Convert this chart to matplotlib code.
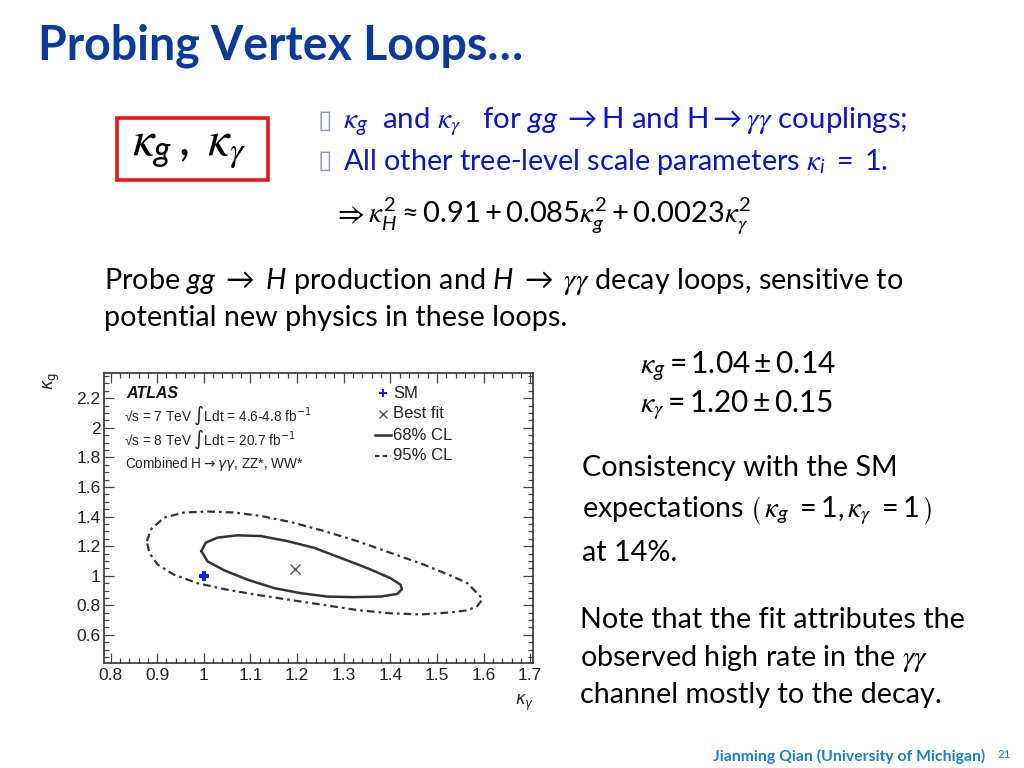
import matplotlib
matplotlib.use("Agg")
import matplotlib.pyplot as plt
from matplotlib.lines import Line2D
from matplotlib.patches import Rectangle
from matplotlib.ticker import MultipleLocator

# ---------------- data ----------------
cl68_x = [0.995, 1.004, 1.029, 1.072, 1.122, 1.179, 1.236, 1.293, 1.350, 1.400,
          1.422, 1.425, 1.415, 1.379, 1.322, 1.265, 1.208, 1.151, 1.094, 1.044,
          1.008, 0.995]
cl68_y = [1.166, 1.223, 1.257, 1.273, 1.268, 1.234, 1.189, 1.121, 1.052, 0.984,
          0.939, 0.909, 0.877, 0.859, 0.855, 0.859, 0.882, 0.916, 0.973, 1.036,
          1.097, 1.166]

cl95_x = [0.878, 0.887, 0.915, 0.958, 1.008, 1.065, 1.122, 1.186, 1.258, 1.329,
          1.400, 1.472, 1.530, 1.565, 1.593, 1.597, 1.586, 1.565, 1.529, 1.465,
          1.400, 1.329, 1.258, 1.186, 1.115, 1.044, 0.986, 0.936, 0.901, 0.883,
          0.878]
cl95_y = [1.234, 1.314, 1.393, 1.427, 1.434, 1.427, 1.404, 1.363, 1.302, 1.234,
          1.155, 1.075, 1.000, 0.950, 0.860, 0.838, 0.793, 0.766, 0.752, 0.738,
          0.746, 0.768, 0.802, 0.836, 0.870, 0.909, 0.950, 1.007, 1.075, 1.155,
          1.234]

sm_point = (1.0, 1.0)
best_fit = (1.195, 1.045)

x_ticks = [0.8, 0.9, 1.0, 1.1, 1.2, 1.3, 1.4, 1.5, 1.6, 1.7]
x_tick_labels = ["0.8", "0.9", "1", "1.1", "1.2", "1.3", "1.4", "1.5", "1.6", "1.7"]
y_ticks = [0.6, 0.8, 1.0, 1.2, 1.4, 1.6, 1.8, 2.0, 2.2]
y_tick_labels = ["0.6", "0.8", "1", "1.2", "1.4", "1.6", "1.8", "2", "2.2"]

# ---------------- figure ----------------
W, H = 1024, 768
plt.rcParams["mathtext.fontset"] = "custom"
plt.rcParams["mathtext.rm"] = "Lato"
plt.rcParams["mathtext.it"] = "STIXGeneral:italic"
plt.rcParams["mathtext.sf"] = "Lato:italic"
plt.rcParams["mathtext.bf"] = "Lato:bold"
plt.rcParams["mathtext.fallback"] = "stix"

fig = plt.figure(figsize=(W / 100, H / 100), dpi=100)
fig.patch.set_facecolor("white")

SLIDE = ["Lato", "DejaVu Sans"]
PLOT = ["Liberation Sans", "DejaVu Sans"]
BODY = 20.7


def T(x, y, s, **kw):
    kw.setdefault("family", SLIDE)
    kw.setdefault("va", "center")
    kw.setdefault("ha", "left")
    return fig.text(x / W, 1 - y / H, s, **kw)


# title
T(38, 46, "Probing Vertex Loops…", fontsize=33.5, weight="bold", color="#0a3a9c")

# red box
fig.patches.append(Rectangle((117 / W, 1 - 180 / H), 151 / W, 62 / H,
                             transform=fig.transFigure, fill=False,
                             edgecolor="#e8161b", linewidth=2.6))
T(132, 149, r"$\kappa_{\mathsf{g}}\,,\ \kappa_\gamma$", fontsize=35, color="black")

# bullets
blue = "#0a14c8"
T(318, 121, "▯", fontsize=19, color="#8f96d6", family=["DejaVu Sans"])
T(343, 122, r"$\kappa_{\mathsf{g}}$  and $\kappa_\gamma$   for $\mathsf{gg}\ \rightarrow$H and H$\rightarrow\gamma\gamma$ couplings;",
  fontsize=21.2, color=blue)
T(318, 161, "▯", fontsize=19, color="#8f96d6", family=["DejaVu Sans"])
T(343, 162, r"All other tree-level scale parameters $\kappa_{\mathsf{i}}\ =\ $1.",
  fontsize=BODY, color=blue)

# equation
T(333, 216, r"$\Rightarrow\kappa_{\mathsf{H}}^2 \approx 0.91+0.085\kappa_{\mathsf{g}}^2+0.0023\kappa_\gamma^2$",
  fontsize=21, color="black")

# paragraph
T(104, 281, r"Probe $\mathsf{gg}\ \rightarrow\ \mathsf{H}$ production and $\mathsf{H}\ \rightarrow\ \gamma\gamma$ decay loops, sensitive to",
  fontsize=BODY, color="black")
T(104, 318, "potential new physics in these loops.", fontsize=BODY, color="black")

# right-hand results
T(640, 367, r"$\kappa_{\mathsf{g}} = 1.04 \pm 0.14$", fontsize=21.5, color="black")
T(640, 405, r"$\kappa_\gamma = 1.20 \pm 0.15$", fontsize=21.5, color="black")

T(582, 468, "Consistency with the SM", fontsize=BODY, color="black")
T(582, 511, r"expectations $\left(\,\kappa_{\mathsf{g}}\ =1,\kappa_\gamma\ =1\,\right)$", fontsize=BODY, color="black")
T(582, 553, "at 14%.", fontsize=BODY, color="black")

T(580, 620, "Note that the fit attributes the", fontsize=BODY, color="black")
T(580, 658, r"observed high rate in the $\gamma\gamma$", fontsize=BODY, color="black")
T(580, 695, "channel mostly to the decay.", fontsize=BODY, color="black")

# footer
T(985, 756, "Jianming Qian (University of Michigan)", fontsize=11.3, weight="bold",
  color="#1a7fd4", ha="right")
T(998, 755, "21", fontsize=8.5, color="#1a7fd4")

# ---------------- plot ----------------
ax = fig.add_axes([104 / W, 1 - 663 / H, 429 / W, 290 / H])
ax.set_xlim(0.786, 1.706)
ax.set_ylim(0.41, 2.37)

line_col = "#333333"
ax.plot(cl95_x, cl95_y, color=line_col, lw=1.6, linestyle=(0, (3.5, 1.8, 1.2, 1.8)))
ax.plot(cl68_x, cl68_y, color=line_col, lw=1.8)
ax.plot(*sm_point, marker="P", color="#1a1aff", markersize=6.5, markeredgewidth=0)
ax.plot(*best_fit, marker="x", color="#555555", markersize=6.5, markeredgewidth=1.0)

ax.set_xticks(x_ticks)
ax.set_xticklabels(x_tick_labels)
ax.set_yticks(y_ticks)
ax.set_yticklabels(y_tick_labels)
ax.xaxis.set_minor_locator(MultipleLocator(0.02))
ax.yaxis.set_minor_locator(MultipleLocator(0.05))
ax.tick_params(which="both", direction="in", top=True, right=True,
               color="#444444", width=0.9)
ax.tick_params(which="major", length=7, labelsize=12.5, labelcolor="#222222",
               labelfontfamily="Liberation Sans")
ax.tick_params(axis="y", which="major", pad=2.5)
ax.tick_params(axis="x", which="major", pad=3.5)
ax.tick_params(which="minor", length=3.5)
for sp in ax.spines.values():
    sp.set_linewidth(1.2)
    sp.set_color("#333333")

# axis titles
T(52, 381, r"$\kappa_{\mathrm{g}}$", fontsize=12, rotation=90, ha="center",
  color="#222222", math_fontfamily="dejavusans")
T(525, 703, r"$\kappa_{\gamma}$", fontsize=12, ha="center", color="#222222",
  math_fontfamily="dejavusans")

# ATLAS text
T(126, 393, "ATLAS", fontsize=11.5, weight="bold", style="italic",
  family=PLOT, color="#111111")
T(124, 416, "\u221As = 7 TeV " + r"$\int$Ldt = 4.6-4.8 fb$^{-1}$", fontsize=9.8,
  family=PLOT, color="#222222", math_fontfamily="dejavusans")
T(124, 440, "\u221As = 8 TeV " + r"$\int$Ldt = 20.7 fb$^{-1}$", fontsize=9.8,
  family=PLOT, color="#222222", math_fontfamily="dejavusans")
T(125, 464, r"Combined H$\rightarrow\gamma\gamma$, ZZ*, WW*", fontsize=9.8,
  family=PLOT, color="#222222", math_fontfamily="dejavusans")

# legend (manual, ROOT style)
legend_items = [
    ("SM", dict(marker="P", color="#1a1aff", markersize=6, markeredgewidth=0, linestyle="none")),
    ("Best fit", dict(marker="x", color="#555555", markersize=6, markeredgewidth=1.0, linestyle="none")),
    ("68% CL", dict(color=line_col, lw=1.8)),
    ("95% CL", dict(color=line_col, lw=1.6, linestyle=(0, (2, 1.5)))),
]
ly = [393, 414, 435, 456]
for (lab, style), yy in zip(legend_items, ly):
    fy = 1 - yy / H
    if "marker" in style:
        fig.lines.append(Line2D([383 / W], [fy], transform=fig.transFigure, **style))
    else:
        fig.lines.append(Line2D([375 / W, 391 / W], [fy, fy], transform=fig.transFigure, **style))
    T(393, yy, lab, fontsize=12, family=PLOT, color="#222222")

fig.savefig("out.png", dpi=100)
